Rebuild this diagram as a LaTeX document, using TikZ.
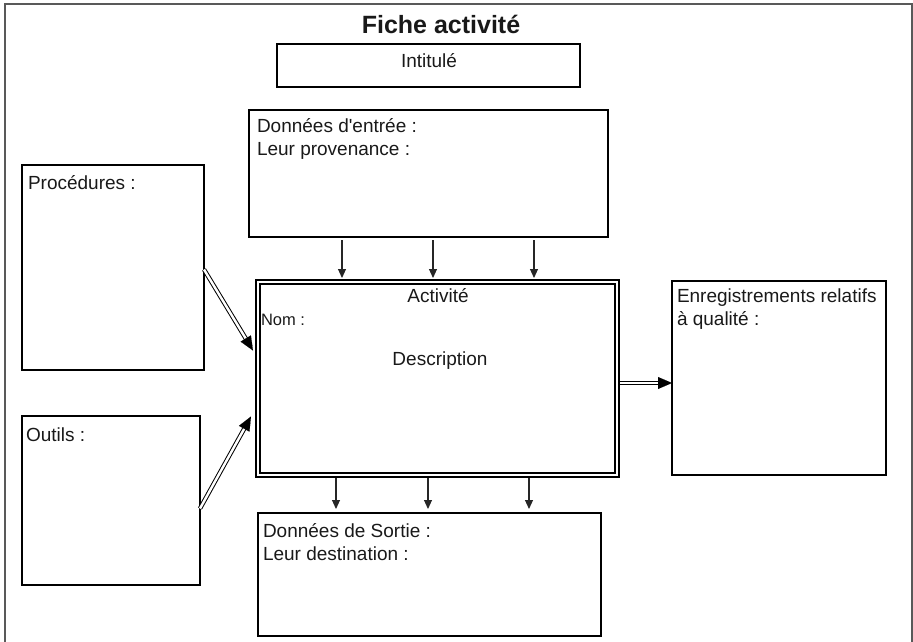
\documentclass[tikz,border=0pt]{standalone}
\usepackage{fontspec}
\setmainfont{Liberation Sans}[Ligatures=TeXOff]
\usetikzlibrary{arrows.meta,calc}
\begin{document}
\begin{tikzpicture}[x=1pt,y=-1pt,
  box/.style={draw=black, line width=1.8pt, rectangle, inner sep=0pt, outer sep=0pt, anchor=north west},
  dblbox/.style={draw=black, line width=1.8pt, double=white, double distance=2.4pt, rectangle, inner sep=0pt, outer sep=0pt, anchor=north west},
  txt/.style={inner sep=0pt, outer sep=0pt, anchor=base west, font=\fontsize{19}{23}\selectfont, text=black!90},
  ctxt/.style={txt, anchor=base},
  smalltxt/.style={txt, font=\fontsize{16.5}{19}\selectfont},
  arr/.style={draw=black!85, line width=1.1pt, -{Triangle[length=9pt,width=8pt]}},
  dbl/.style={draw=black, line width=1pt, double=white, double distance=2.4pt},
  dbltip/.style={draw=black, line width=0.1pt, -{Triangle[length=14pt,width=12pt]}}
]
\useasboundingbox (0,0) rectangle (913,642);
% outer frame
\draw[draw=black!65, line width=2pt] (5,650) -- (5,4) -- (912,4) -- (912,650);

% title
\node[inner sep=0pt, anchor=base, font=\fontsize{25}{30}\selectfont\bfseries, text=black!90] (title) at (441,34) {Fiche activité};

% boxes
\node[box, minimum width=303pt, minimum height=43pt] (int) at (277,44) {};
\node[box, minimum width=359pt, minimum height=127pt] (ent) at (249,110) {};
\node[box, minimum width=182pt, minimum height=205pt] (proc) at (22,165) {};
\node[box, minimum width=178pt, minimum height=169pt] (out) at (22,416) {};
\node[dblbox, minimum width=359pt, minimum height=193pt] (act) at (258,282) {};
\node[box, minimum width=214pt, minimum height=194pt] (enr) at (672,281) {};
\node[box, minimum width=343pt, minimum height=123pt] (sor) at (258,513) {};

% texts
\node[ctxt] (tint) at (429,67) {Intitulé};
\node[txt] (tent1) at (257,132) {Données d'entrée :};
\node[txt] (tent2) at (257,155) {Leur provenance :};
\node[txt] (tproc) at (28,189) {Procédures :};
\node[txt] (tout) at (26,441) {Outils :};
\node[ctxt] (tact) at (438,302) {Activité};
\node[smalltxt] (tnom) at (261,325) {Nom :};
\node[ctxt] (tdesc) at (440,365) {Description};
\node[txt] (tenr1) at (677,302) {Enregistrements relatifs};
\node[txt] (tenr2) at (677,325) {à qualité :};
\node[txt] (tsor1) at (263,537) {Données de Sortie :};
\node[txt] (tsor2) at (263,560) {Leur destination :};

% arrows in
\foreach \x/\n in {342/a,433/b,534/c}{
  \coordinate (ei\n) at (\x,237);
  \draw[arr, shorten <=3pt, shorten >=4pt] (ei\n) -- (ei\n |- act.north);
}
% arrows out
\foreach \x/\n in {336/a,428/b,529/c}{
  \coordinate (eo\n) at (\x,478);
  \draw[arr, shorten >=4pt] (eo\n) -- (eo\n |- sor.north);
}

% double arrows
\coordinate (p1) at ([yshift=-2pt]proc.east);
\coordinate (p2) at ([xshift=-5pt,yshift=28pt]act.west);
\draw[dbl, shorten >=12pt] (p1) -- (p2);
\draw[dbltip] ($(p2)!14pt!(p1)$) -- (p2);

\coordinate (o1) at ([yshift=-8pt]out.east);
\coordinate (o2) at ([xshift=-7pt,yshift=-38pt]act.west);
\draw[dbl, shorten >=12pt] (o1) -- (o2);
\draw[dbltip] ($(o2)!14pt!(o1)$) -- (o2);

\coordinate (r1) at ([xshift=3pt,yshift=-4.5pt]act.east);
\coordinate (r2) at (enr.west |- r1);
\draw[dbl, shorten >=12pt] (r1) -- (r2);
\draw[dbltip] ($(r2)!14pt!(r1)$) -- (r2);
\end{tikzpicture}
\end{document}
